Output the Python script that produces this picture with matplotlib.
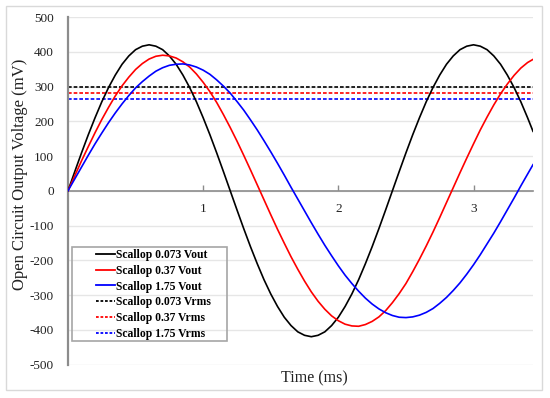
import matplotlib
matplotlib.use("Agg")
import matplotlib.pyplot as plt
from matplotlib.patches import Rectangle
from matplotlib.lines import Line2D

plt.rcParams['font.family'] = ['Liberation Serif', 'DejaVu Serif']

# ---- data ----
time_ms = [0.00, 0.05, 0.10, 0.15, 0.20, 0.25, 0.30, 0.35, 0.40, 0.45,
           0.50, 0.55, 0.60, 0.65, 0.70, 0.75, 0.80, 0.85, 0.90, 0.95,
           1.00, 1.05, 1.10, 1.15, 1.20, 1.25, 1.30, 1.35, 1.40, 1.45,
           1.50, 1.55, 1.60, 1.65, 1.70, 1.75, 1.80, 1.85, 1.90, 1.95,
           2.00, 2.05, 2.10, 2.15, 2.20, 2.25, 2.30, 2.35, 2.40, 2.45,
           2.50, 2.55, 2.60, 2.65, 2.70, 2.75, 2.80, 2.85, 2.90, 2.95,
           3.00, 3.05, 3.10, 3.15, 3.20, 3.25, 3.30, 3.35, 3.40, 3.44]

vout_0073 = [0, 55, 109, 161, 210, 256, 297, 333, 364, 388,
             406, 416, 420, 416, 406, 388, 364, 333, 297, 256,
             210, 161, 109, 55, 0, -55, -109, -161, -210, -256,
             -297, -333, -364, -388, -406, -416, -420, -416, -406, -388,
             -364, -333, -297, -256, -210, -161, -109, -55, 0, 55,
             109, 161, 210, 256, 297, 333, 364, 388, 406, 416,
             420, 416, 406, 388, 364, 333, 297, 256, 210, 171]

vout_037 = [0, 43, 86, 127, 167, 205, 240, 273, 302, 327,
            349, 366, 379, 387, 390, 388, 382, 371, 356, 336,
            312, 285, 254, 219, 182, 143, 102, 60, 17, -26,
            -69, -111, -151, -190, -226, -260, -291, -318, -341, -360,
            -374, -384, -389, -390, -385, -376, -363, -345, -322, -296,
            -267, -233, -197, -159, -119, -77, -34, 9, 52, 94,
            135, 175, 212, 247, 279, 307, 332, 353, 369, 378]

vout_175 = [0, 34, 68, 102, 135, 166, 196, 224, 250, 274,
            296, 314, 330, 344, 354, 361, 364, 365, 362, 356,
            347, 335, 319, 301, 281, 257, 232, 204, 175, 144,
            112, 79, 45, 10, -24, -58, -92, -125, -157, -187,
            -216, -243, -267, -289, -309, -326, -340, -351, -359, -364,
            -365, -363, -358, -350, -339, -324, -307, -287, -265, -240,
            -213, -184, -153, -122, -89, -55, -21, 14, 48, 75]

vrms_0073 = 300
vrms_037 = 280
vrms_175 = 265

labels = ["Scallop 0.073 Vout", "Scallop 0.37 Vout", "Scallop 1.75 Vout",
          "Scallop 0.073 Vrms", "Scallop 0.37 Vrms", "Scallop 1.75 Vrms"]
colors = ["#000000", "#ff0000", "#0000ff"]

y_ticks = [-500, -400, -300, -200, -100, 0, 100, 200, 300, 400, 500]
x_ticks = [1, 2, 3]
x_tick_labels = ["1", "2", "3"]

# ---- figure ----
W, H = 550, 398
fig = plt.figure(figsize=(W / 100, H / 100), dpi=100)
fig.patch.set_facecolor("white")
fig.add_artist(Rectangle((6 / W, 1 - 390 / H), (542 - 6) / W, (390 - 6) / H,
                         transform=fig.transFigure, fill=False,
                         edgecolor="#d9d9d9", lw=1.0))

ax = fig.add_axes([68 / W, 1 - 364.5 / H, (533 - 68) / W, (364.5 - 17) / H])

dash = (0, (2.2, 1.2))
for vals, c in zip([vout_0073, vout_037, vout_175], colors):
    ax.plot(time_ms, vals, color=c, lw=1.2, zorder=3)
for v, c in zip([vrms_0073, vrms_037, vrms_175], colors):
    ax.axhline(v, color=c, lw=1.2, linestyle=dash, zorder=2)

ax.set_xlim(0, 3.44)
ax.set_ylim(-500, 500)
ax.set_yticks(y_ticks)
ax.set_yticklabels([str(v) for v in y_ticks])
ax.set_xticks(x_ticks)
ax.set_xticklabels(x_tick_labels)

ax.yaxis.grid(True, color="#e6e6e6", lw=1.0, zorder=0)
ax.set_axisbelow(True)
for s in ["top", "right"]:
    ax.spines[s].set_visible(False)
ax.spines["left"].set_color("#8c8c8c")
ax.spines["left"].set_linewidth(1.6)
ax.spines["bottom"].set_position(("data", 0))
ax.spines["bottom"].set_color("#8c8c8c")
ax.spines["bottom"].set_linewidth(1.2)

ax.tick_params(axis="y", length=0, pad=10, labelsize=9.5, labelcolor="#222222")
ax.tick_params(axis="x", direction="in", length=4, width=1, color="#8c8c8c",
               pad=9, labelsize=9.5, labelcolor="#222222")

fig.text(20 / W, 1 - 174 / H, "Open Circuit Output Voltage (mV)", rotation=90,
         ha="center", va="center", fontsize=12, color="#222222")
fig.text(314 / W, 1 - 378 / H, "Time (ms)", ha="center", va="center",
         fontsize=11.5, color="#222222")

# legend frame and entries
fig.add_artist(Rectangle((72 / W, 1 - 341 / H), (227 - 72) / W, (341 - 247) / H,
                         transform=fig.transFigure, fill=False,
                         edgecolor="#a6a6a6", lw=1.2, zorder=5))
handles = [Line2D([], [], color=c, lw=1.3) for c in colors] + \
          [Line2D([], [], color=c, lw=1.3, linestyle=(0, (1.5, 1.0))) for c in colors]
leg = fig.legend(handles, labels, loc="upper left",
                 bbox_to_anchor=(94 / W, 1 - 246.5 / H), frameon=False,
                 prop={"family": ["Liberation Serif"], "weight": "bold", "size": 8.4},
                 handlelength=1.6, handletextpad=0.1, labelspacing=0.33,
                 borderpad=0.2, borderaxespad=0)

fig.savefig("out.png", dpi=100, facecolor="white")
